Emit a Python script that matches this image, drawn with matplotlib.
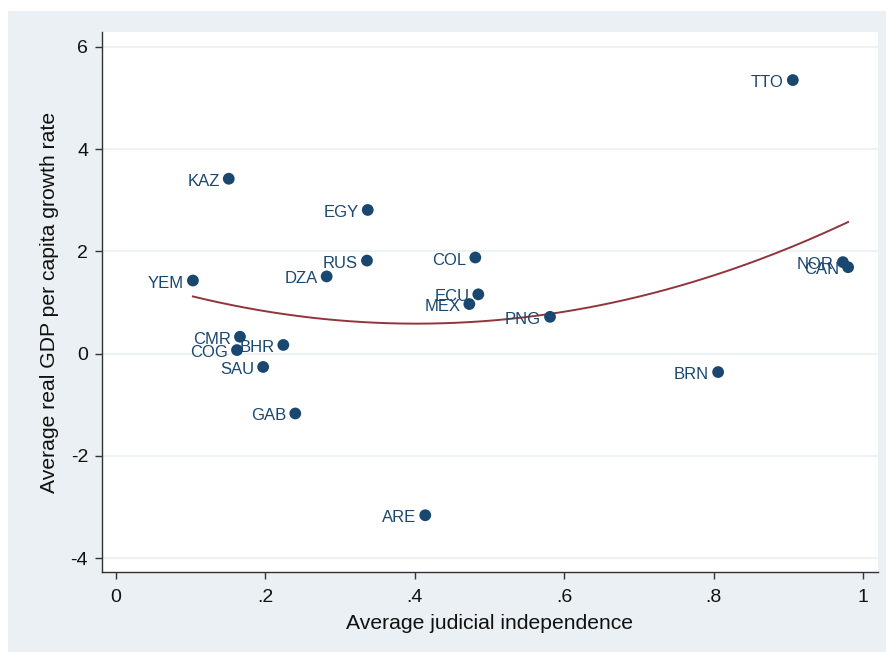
import numpy as np
import matplotlib
matplotlib.use("Agg")
import matplotlib.pyplot as plt
from matplotlib.patches import Rectangle

plt.rcParams['font.family'] = ['Liberation Sans', 'DejaVu Sans']
plt.rcParams['axes.unicode_minus'] = False

# country codes, judicial independence, growth
countries = ["TTO", "KAZ", "EGY", "RUS", "DZA", "COL", "ECU", "MEX", "PNG", "YEM",
             "NOR", "CAN", "CMR", "COG", "BHR", "SAU", "GAB", "BRN", "ARE"]
judicial = [0.906, 0.151, 0.337, 0.336, 0.282, 0.481, 0.485, 0.473, 0.581, 0.103,
            0.973, 0.980, 0.166, 0.162, 0.224, 0.197, 0.240, 0.806, 0.414]
growth = [5.35, 3.42, 2.81, 1.82, 1.51, 1.88, 1.16, 0.97, 0.72, 1.43,
          1.79, 1.69, 0.33, 0.07, 0.17, -0.26, -1.17, -0.36, -3.16]

xticks = [0, 0.2, 0.4, 0.6, 0.8, 1.0]
xticklabels = ["0", ".2", ".4", ".6", ".8", "1"]
yticks = [-4, -2, 0, 2, 4, 6]

navy = "#1a476f"
maroon = "#90353b"
bg = "#eaf0f3"

fig = plt.figure(figsize=(8.87, 6.52), dpi=100)
fig.patch.set_facecolor("white")
fig.patches.append(Rectangle((8 / 887, 0), 1, 641 / 652, transform=fig.transFigure,
                             facecolor=bg, edgecolor="none", zorder=-10))

ax = fig.add_axes([102 / 887, 80 / 652, 776 / 887, 540 / 652])
ax.set_facecolor("white")

x = np.array(judicial)
y = np.array(growth)

# quadratic fit
coef = np.polyfit(x, y, 2)
xs = np.linspace(x.min(), x.max(), 200)
ax.plot(xs, np.polyval(coef, xs), color=maroon, lw=1.4, zorder=2)

ax.scatter(x, y, s=72, color=navy, edgecolors="none", zorder=3)
for name, xi, yi in zip(countries, judicial, growth):
    ax.annotate(name, (xi, yi), xytext=(-6.5, -1.8), textcoords="offset points",
                ha="right", va="center", fontsize=12, color=navy, zorder=4)

ax.set_xlim(-0.0187, 1.02)
ax.set_ylim(-4.27, 6.29)
ax.set_xticks(xticks)
ax.set_xticklabels(xticklabels)
ax.set_yticks(yticks)
ax.yaxis.grid(True, color=bg, lw=1.2)
ax.set_axisbelow(True)

for side in ["top", "right"]:
    ax.spines[side].set_visible(False)
for side in ["left", "bottom"]:
    ax.spines[side].set_color("#333333")
    ax.spines[side].set_linewidth(1.0)

ax.tick_params(axis="both", direction="out", length=5, width=1, color="#333333",
               labelsize=14, labelcolor="#111111", pad=5)
ax.tick_params(axis="x", pad=7)

ax.set_xlabel("Average judicial independence", fontsize=15.2, color="#111111", labelpad=6)
ax.set_ylabel("Average real GDP per capita growth rate", fontsize=15.2, color="#111111",
              labelpad=8)

fig.savefig("out.png", dpi=100)
